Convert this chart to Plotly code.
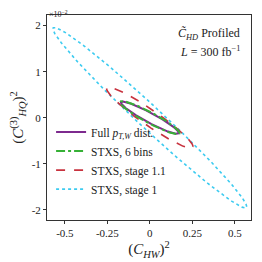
import numpy as np
import plotly.graph_objects as go

# Ellipse parameters (x half-extent, y half-extent in units of 1e-2, correlation)
names = ["Full <i>p</i><sub><i>T,W</i></sub> dist.", "STXS, 6 bins", "STXS, stage 1.1", "STXS, stage 1"]
sigma_x = [0.170, 0.175, 0.255, 0.570]
sigma_y = [0.350, 0.360, 0.665, 1.960]
rho = [-0.94, -0.93, -0.95, -0.985]
colors = ["#7d2a8e", "#36b036", "#c8323e", "#3ccbf0"]
dashes = ["solid", "dashdot", "dash", "dot"]
widths = [2.0, 2.0, 1.6, 1.6]
draw_order = [3, 2, 0, 1]

x_tickvals = [-0.5, -0.25, 0, 0.25, 0.5]
x_ticktext = ["-0.5", "-0.25", "0", "0.25", "0.5"]
y_tickvals = [-2, -1, 0, 1, 2]
y_ticktext = ["-2", "-1", "0", "1", "2"]

t = np.linspace(0, 2 * np.pi, 400)
fig = go.Figure()
for i in draw_order:
    d = np.arccos(abs(rho[i]))
    sgn = np.sign(rho[i])
    xs = sigma_x[i] * np.cos(t)
    ys = sgn * sigma_y[i] * np.cos(t - sgn * d)
    fig.add_trace(go.Scatter(
        x=xs, y=ys, mode="lines", name=names[i], legendrank=i + 1,
        line=dict(color=colors[i], dash=dashes[i], width=widths[i]),
    ))

font = "Liberation Serif, DejaVu Serif, serif"
fig.update_layout(
    width=254, height=254,
    margin=dict(l=39, r=11, t=7, b=42),
    paper_bgcolor="white", plot_bgcolor="white",
    font=dict(family=font, size=11, color="#222"),
    showlegend=True,
    legend=dict(x=0.02, y=0.08, xanchor="left", yanchor="bottom",
                bgcolor="rgba(0,0,0,0)", font=dict(size=11.5, family=font),
                tracegroupgap=0, itemwidth=30),
    xaxis=dict(range=[-0.605, 0.595], tickvals=x_tickvals, ticktext=x_ticktext,
               showgrid=False, zeroline=False, showline=True, mirror=True,
               linecolor="#333", linewidth=1, ticks="outside", ticklen=3,
               tickcolor="#333",
               title=dict(text="(<i>C</i><sub><i>HW</i></sub>)<sup>2</sup>",
                          font=dict(size=15), standoff=2)),
    yaxis=dict(range=[-2.22, 2.23], tickvals=y_tickvals, ticktext=y_ticktext,
               showgrid=False, zeroline=False, showline=True, mirror=True,
               linecolor="#333", linewidth=1, ticks="outside", ticklen=3,
               tickcolor="#333",
               title=dict(text="(<i>C</i><sup>(3)</sup><sub><i>HQ</i></sub>)<sup>2</sup>",
                          font=dict(size=15), standoff=4)),
    annotations=[
        dict(text="×10<sup>−2</sup>", xref="paper", yref="paper", x=0, y=1.0,
             xanchor="left", yanchor="top", yshift=8, showarrow=False,
             font=dict(size=8)),
        dict(text="<i>C̃</i><sub><i>HD</i></sub> Profiled", xref="paper", yref="paper",
             x=0.955, y=0.955, xanchor="right", yanchor="top", showarrow=False,
             font=dict(size=12)),
        dict(text="<i>L</i> = 300 fb<sup>−1</sup>", xref="paper", yref="paper",
             x=0.955, y=0.87, xanchor="right", yanchor="top", showarrow=False,
             font=dict(size=12)),
    ],
)
fig.write_html("out.html")
